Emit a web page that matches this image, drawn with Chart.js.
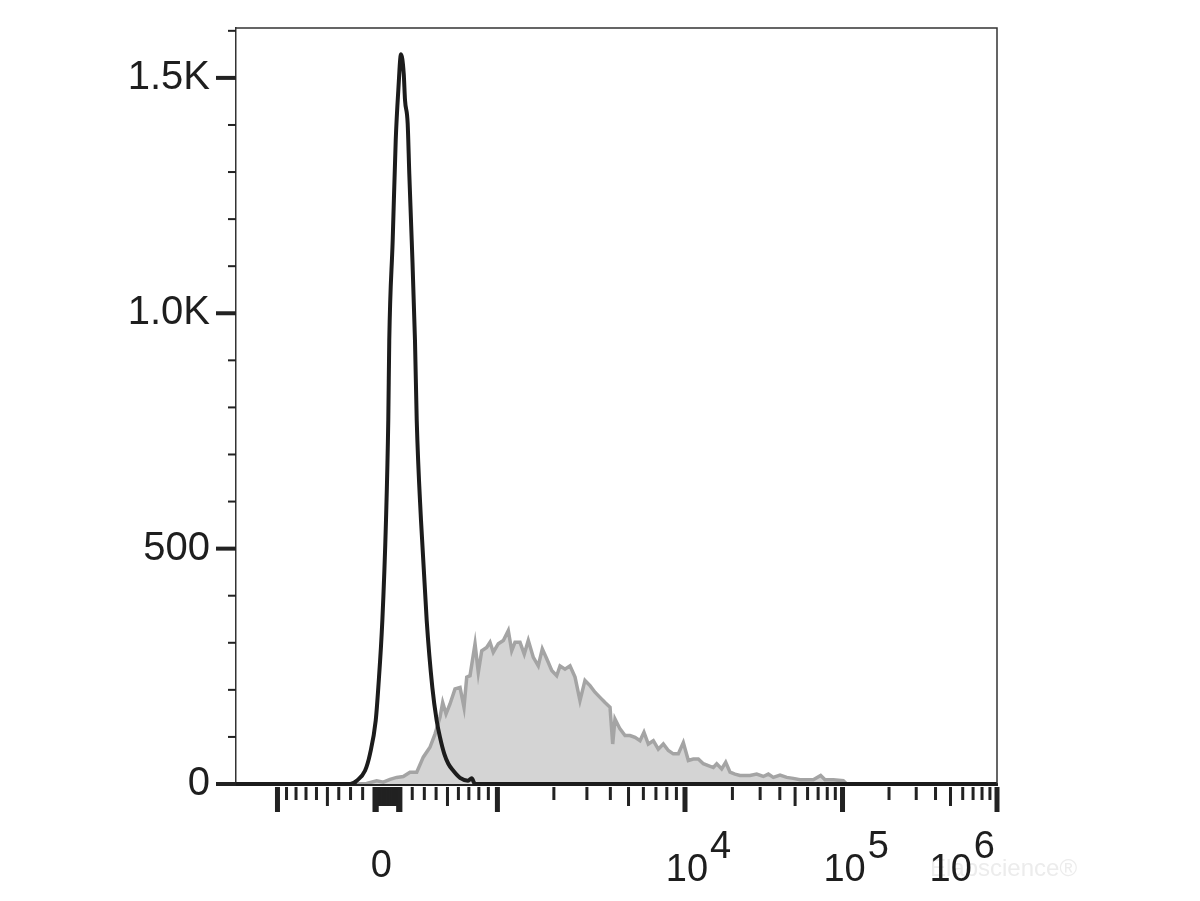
<!DOCTYPE html>
<html>
<head>
<meta charset="utf-8">
<script src="https://cdn.jsdelivr.net/npm/chart.js@4.4.0/dist/chart.umd.min.js"></script>
<style>
  html, body { margin: 0; padding: 0; background: #fff; }
  canvas { display: block; }
</style>
</head>
<body>
<canvas id="flow-chart" width="1200" height="901"></canvas>
<script>
// channel positions of the biexponential axis (x runs 0..1000 channels)
const zeroChannel = 199;
const linearHalfWidth = 144.5;          // 0 -> 10^3
const decadeValues = [1e3, 1e4, 1e5, 1e6];
const decadeChannels = [343.5, 590, 797, 1000];

// isotype control (black) - channel / count
const blackX = [0, 150, 158.6, 169.5, 176.1, 183.6, 187.0, 192.3, 197.1, 200.1, 201.4, 205.9, 209.9, 213.3, 216.8, 220.4, 222.1, 225.6, 227.7, 230.9, 235.2, 237.5, 243.1, 250.6, 258.0, 263.7, 268.1, 273.7, 279.0, 285.6, 294.4, 304.9, 309.7, 314.1, 1000];
const blackY = [0, 0, 7, 28, 64, 135, 205, 347, 560, 772, 942, 1155, 1368, 1474, 1550, 1509, 1453, 1403, 1297, 1155, 942, 772, 560, 347, 205, 135, 99, 64, 43, 28, 13, 7, 12, 0, 0];

// stained sample (grey) - channel / count
const greyX = [158.6, 171.7, 184.9, 193.6, 202.4, 211.2, 219.8, 228.6, 237.5, 246.1, 254.9, 261.5, 268.1, 271.6, 276.0, 281.2, 287.8, 294.4, 299.6, 303.2, 307.5, 314.1, 318.4, 322.9, 329.4, 333.8, 338.1, 344.7, 351.3, 357.8, 362.3, 366.6, 373.2, 378.8, 384.1, 390.7, 397.2, 402.5, 408.3, 414.9, 421.4, 425.8, 432.3, 438.9, 445.5, 452.0, 458.6, 465.2, 471.7, 478.3, 484.9, 491.5, 495.0, 498.0, 504.6, 511.2, 517.7, 524.3, 530.9, 536.1, 541.8, 548.4, 554.9, 561.5, 568.1, 574.6, 581.2, 587.8, 594.4, 600.9, 607.5, 614.1, 620.6, 627.2, 631.7, 638.2, 643.5, 649.2, 655.7, 662.3, 675.4, 684.2, 692.9, 699.5, 706.1, 714.9, 723.7, 732.3, 741.1, 749.9, 758.6, 768.3, 774.0, 784.9, 798.0, 802.5];
const greyY = [0, 1, 7, 4, 10, 14, 16, 25, 25, 57, 78, 106, 142, 173, 149, 170, 202, 205, 163, 227, 230, 298, 237, 283, 290, 301, 280, 298, 305, 326, 283, 301, 301, 276, 305, 269, 251, 287, 266, 241, 230, 251, 244, 251, 227, 177, 220, 209, 195, 184, 173, 163, 85, 138, 117, 103, 103, 99, 92, 110, 85, 92, 74, 85, 71, 64, 64, 88, 50, 53, 53, 43, 39, 35, 43, 32, 46, 25, 21, 18, 18, 21, 16, 21, 14, 19, 14, 12, 9, 9, 9, 18, 9, 9, 7, 0];

// axis ticks
const yTickValues = [0, 100, 200, 300, 400, 500, 600, 700, 800, 900, 1000, 1100, 1200, 1300, 1400, 1500, 1600];
const yMajorValues = [0, 500, 1000, 1500];
const yMajorLabels = ['0', '500', '1.0K', '1.5K'];

const xLongTicks = [-1000, -100, -90, 90, 100, 1000, 1e4, 1e5, 1e6];
const xMediumTicks = [-500, -80, -70, -60, -50, -40, -30, -20, -10, 0, 10, 20, 30, 40, 50, 60, 70, 80, 500, 5000, 5e4, 5e5];
const xShortTicks = [-900, -800, -700, -600, -400, -300, -200, 200, 300, 400, 600, 700, 800, 900,
  2000, 3000, 4000, 6000, 7000, 8000, 9000,
  2e4, 3e4, 4e4, 6e4, 7e4, 8e4, 9e4,
  2e5, 3e5, 4e5, 6e5, 7e5, 8e5, 9e5];
const xLabelValues = [0, 1e4, 1e5, 1e6];
const xLabelExponents = [null, '4', '5', '6'];

function toChannel(v){
    if (v < 0) return 2 * zeroChannel - toChannel(-v);
    if (v <= 1000) return zeroChannel + linearHalfWidth * Math.asinh(v / 1000) / Math.asinh(1);
    for (let i = 0; i < decadeValues.length - 1; i++) {
        if (v <= decadeValues[i + 1]) {
            let f = Math.log10(v / decadeValues[i]);
            return decadeChannels[i] + f * (decadeChannels[i + 1] - decadeChannels[i]);
        }
    }
    return decadeChannels[decadeChannels.length - 1];
}

function pairs(xs, ys){
    return xs.map((x, i) => ({x: x, y: ys[i]}));
}

const fontFamily = '"Liberation Sans", Arial, sans-serif';
const labelFont = '38px ' + fontFamily;

const flowAxes = {
    id: 'flowAxes',
    afterDraw(chart){
        const {ctx, chartArea: a, scales: {x, y}} = chart;
        ctx.save();

        // frame top + right
        ctx.strokeStyle = '#333';
        ctx.lineWidth = 1.5;
        ctx.beginPath();
        ctx.moveTo(a.left, a.top);
        ctx.lineTo(a.right, a.top);
        ctx.lineTo(a.right, a.bottom);
        ctx.stroke();

        ctx.fillStyle = '#222';
        // x ticks
        const drawX = (list, len, w) => list.forEach(v => {
            let px = x.getPixelForValue(toChannel(v));
            ctx.fillRect(px - w / 2, a.bottom + 3, w, len);
        });
        drawX(xShortTicks, 13, 3);
        drawX(xMediumTicks, 19, 3);
        drawX(xLongTicks, 25, 5);

        // y ticks
        yTickValues.forEach(v => {
            let py = y.getPixelForValue(v);
            let major = yMajorValues.includes(v);
            let len = major ? 20 : 8;
            let w = major ? 4 : 2;
            ctx.fillRect(a.left - len, py - w / 2, len, w);
        });

        // watermark
        ctx.font = '24px ' + fontFamily;
        ctx.fillStyle = '#ececec';
        ctx.textAlign = 'left';
        ctx.textBaseline = 'alphabetic';
        ctx.fillText('Elabscience\u00ae', 930, 876);

        // x labels with superscripts
        ctx.font = labelFont;
        ctx.fillStyle = '#1e1e1e';
        xLabelValues.forEach((v, i) => {
            let px = x.getPixelForValue(toChannel(v));
            let exp = xLabelExponents[i];
            if (exp === null) {
                ctx.textAlign = 'center';
                ctx.fillText('0', px - 6, 877);
                return;
            }
            let baseW = ctx.measureText('10').width;
            let expW = ctx.measureText(exp).width;
            let left = px - baseW / 2 + 2;
            if (left + baseW + expW + 2 > a.right) left = a.right - baseW - expW - 4;
            ctx.textAlign = 'left';
            ctx.fillText('10', left, 881);
            ctx.fillText(exp, left + baseW + 2, 858);
        });
        ctx.restore();
    }
};

function initFlow(){
    let ctx = document.getElementById('flow-chart').getContext('2d');

    let chart = new Chart(ctx, {
        type: 'line',
        data: {
            datasets: [{
                label: 'Isotype',
                data: pairs(blackX, blackY),
                borderColor: '#1c1c1c',
                borderWidth: 4,
                pointRadius: 0,
                fill: false,
                cubicInterpolationMode: 'monotone',
                clip: false
            }, {
                label: 'Stained',
                data: pairs(greyX, greyY),
                borderColor: '#a4a4a4',
                backgroundColor: '#d4d4d4',
                borderWidth: 3.5,
                pointRadius: 0,
                fill: 'origin',
                tension: 0
            }]
        },
        options: {
            responsive: false,
            animation: false,
            devicePixelRatio: 1,
            layout: { padding: { left: 0, right: 203, top: 28, bottom: 0 } },
            plugins: { legend: { display: false }, tooltip: { enabled: false } },
            scales: {
                x: {
                    type: 'linear',
                    min: 0,
                    max: 1000,
                    afterFit: (s) => { s.height = 117; s.paddingLeft = 0; s.paddingRight = 0; },
                    grid: { display: false },
                    border: { display: true, color: '#222', width: 3 },
                    ticks: { display: false }
                },
                y: {
                    min: 0,
                    max: 1606,
                    afterFit: (s) => { s.width = 236; s.paddingTop = 0; s.paddingBottom = 0; },
                    afterBuildTicks: (s) => { s.ticks = yTickValues.map(v => ({value: v})); },
                    grid: { display: true, drawOnChartArea: false, drawTicks: false },
                    border: { display: true, color: '#333', width: 1.5 },
                    ticks: {
                        autoSkip: false,
                        padding: 26,
                        color: '#1e1e1e',
                        font: { family: fontFamily, size: 40 },
                        callback: (v) => {
                            let i = yMajorValues.indexOf(v);
                            return i >= 0 ? yMajorLabels[i] : '';
                        }
                    }
                }
            }
        },
        plugins: [flowAxes]
    });
}

initFlow();
</script>
</body>
</html>
